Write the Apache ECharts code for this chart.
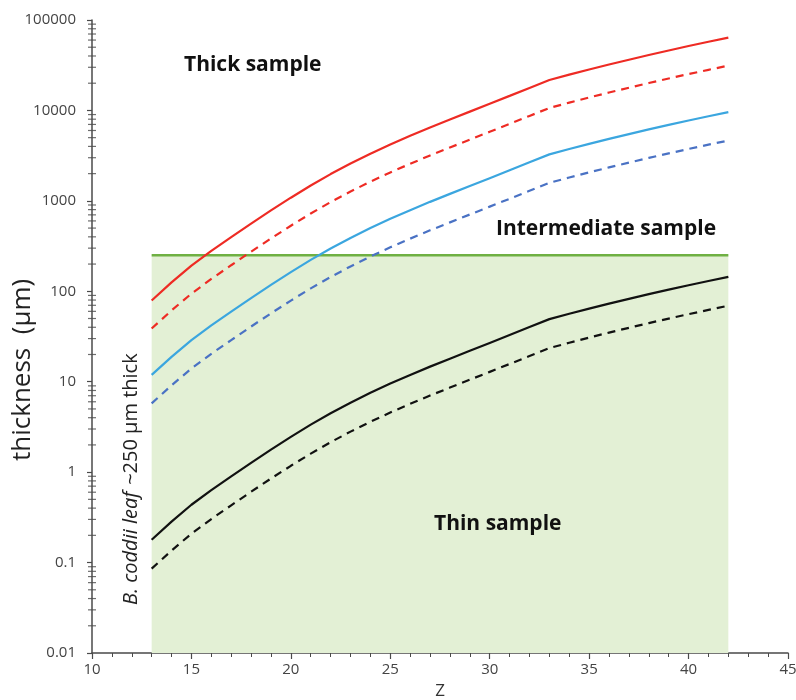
<!DOCTYPE html>
<html>
<head>
<meta charset="utf-8">
<script src="https://cdn.jsdelivr.net/npm/echarts@6/dist/echarts.min.js"></script>
<style>
  html, body { margin: 0; padding: 0; background: #fff; }
  #chart { width: 796px; height: 700px; }
</style>
</head>
<body>
<div id="chart"></div>
<script>
// atomic number Z
var zValues = [13, 14, 15, 16, 17, 18, 19, 20, 21, 22, 23, 24, 25, 26, 27,
               28, 29, 30, 31, 32, 33, 34, 35, 36, 37, 38, 39, 40, 41, 42];

// thickness (µm)
var redSolid = [79.1, 125.3, 192.3, 279.3, 396.3, 559.8, 783.4, 1084, 1479, 1977, 2588, 3327, 4207, 5248, 6486,
                7943, 9705, 11858, 14488, 17742, 21727, 24889, 28379, 32211, 36392, 41020, 46026, 51523, 57412, 63826];
var redDashed = [38.8, 61.4, 94.2, 136.9, 194.2, 274.3, 383.9, 531, 725, 969, 1268, 1630, 2061, 2572, 3178,
                 3892, 4755, 5810, 7099, 8694, 10646, 12196, 13906, 15783, 17832, 20100, 22553, 25246, 28132, 31275];
var blueSolid = [11.89, 18.83, 28.90, 41.98, 59.56, 84.14, 117.7, 162.9, 222.3, 297.1, 389.0, 500.0, 632.3, 788.8, 974.8,
                 1194, 1459, 1782, 2178, 2667, 3266, 3741, 4265, 4841, 5470, 6165, 6918, 7744, 8629, 9593];
var blueDashed = [5.76, 9.12, 14.0, 20.33, 28.85, 40.75, 57.03, 78.9, 107.7, 143.9, 188.4, 242.2, 306.3, 382.1, 472.2,
                  578.2, 706.5, 863.3, 1055, 1292, 1582, 1812, 2066, 2345, 2649, 2986, 3351, 3751, 4180, 4647];
var blackSolid = [0.179, 0.284, 0.436, 0.633, 0.898, 1.268, 1.774, 2.455, 3.350, 4.478, 5.862, 7.536, 9.529, 11.89, 14.69,
                  17.99, 21.98, 26.86, 32.82, 40.19, 49.21, 56.37, 64.28, 72.96, 82.43, 92.91, 104.2, 116.7, 130.0, 144.6];
var blackDashed = [0.0857, 0.1358, 0.2085, 0.3028, 0.4296, 0.6068, 0.8492, 1.175, 1.603, 2.143, 2.805, 3.606, 4.560, 5.689, 7.031,
                   8.610, 10.52, 12.85, 15.70, 19.23, 23.55, 26.98, 30.76, 34.92, 39.45, 44.46, 49.89, 55.85, 62.23, 69.19];

// leaf thickness limit and its Z range
var leafThickness = 250;
var leafZRange = [13, 42];

// minor log ticks on the y axis
var yDecades = [0.01, 0.1, 1, 10, 100, 1000, 10000];
var yMantissas = [2, 3, 4, 5, 6, 7, 8, 9];

function pairs(ys) {
    var out = [];
    for (var i = 0; i < zValues.length; i++) {
        out.push([zValues[i], ys[i]]);
    }
    return out;
}

var minorTicks = [];
yDecades.forEach(function(d) {
    yMantissas.forEach(function(m) {
        minorTicks.push([10, +(d * m).toPrecision(3)]);
    });
});

var chart = echarts.init(document.getElementById('chart'));
var font = 'Open Sans';
var axisColor = '#4a4a4a';

function curve(name, data, color, dashed) {
    return {
        name: name,
        type: 'line',
        data: pairs(data),
        showSymbol: false,
        z: 5,
        lineStyle: {
            color: color,
            width: 2.2,
            type: dashed ? [8, 6] : 'solid'
        }
    };
}

var option = {
    animation: false,
    backgroundColor: '#fff',
    textStyle: { fontFamily: font },
    grid: { left: 92, right: 8, top: 20, bottom: 47, containLabel: false, outerBoundsMode: 'none' },
    xAxis: {
        type: 'value',
        min: 10,
        max: 45,
        interval: 5,
        name: 'Z',
        nameLocation: 'middle',
        nameGap: 30,
        nameTextStyle: { color: '#333', fontSize: 17, fontFamily: font },
        axisLine: { onZero: false, lineStyle: { color: axisColor, width: 1.5 } },
        axisTick: { show: true, length: 6, lineStyle: { color: axisColor, width: 1.2 } },
        minorTick: { show: true, splitNumber: 5, length: 4, lineStyle: { color: axisColor, width: 1 } },
        axisLabel: { color: '#444', fontSize: 15, margin: 9, fontFamily: font },
        splitLine: { show: false }
    },
    yAxis: {
        type: 'log',
        logBase: 10,
        min: 0.01,
        max: 100000,
        axisLine: { show: true, lineStyle: { color: axisColor, width: 1.5 } },
        axisTick: { show: true, length: 5, lineStyle: { color: axisColor, width: 1.2 } },
        axisLabel: {
            color: '#444', fontSize: 15, margin: 16, fontFamily: font,
            formatter: function(v) { return String(v); }
        },
        splitLine: { show: false }
    },
    graphic: [
        {
            type: 'text', left: 184, top: 55, z: 100,
            style: { text: 'Thick sample', fontSize: 21, fontWeight: 'bold', fill: '#111', fontFamily: font }
        },
        {
            type: 'text', left: 496, top: 219, z: 100,
            style: { text: 'Intermediate sample', fontSize: 21, fontWeight: 'bold', fill: '#111', fontFamily: font }
        },
        {
            type: 'text', left: 434, top: 514, z: 100,
            style: { text: 'Thin sample', fontSize: 21, fontWeight: 'bold', fill: '#111', fontFamily: font }
        },
        {
            type: 'text',
            x: 141, y: 605, z: 100,
            rotation: Math.PI / 2,
            style: {
                text: '{i|B. coddii leaf}  {n|~250 µm thick}',
                fill: '#222',
                verticalAlign: 'bottom',
                rich: {
                    i: { fontStyle: 'italic', fontSize: 20, fontFamily: font, fill: '#222' },
                    n: { fontSize: 20, fontFamily: font, fill: '#222' }
                }
            }
        },
        {
            type: 'text',
            x: 36, y: 461, z: 100,
            rotation: Math.PI / 2,
            style: {
                text: 'thickness  (µm)',
                fill: '#222',
                fontSize: 26,
                fontFamily: font,
                verticalAlign: 'bottom'
            }
        }
    ],
    series: [
        {
            name: 'leaf',
            type: 'line',
            data: [[leafZRange[0], leafThickness], [leafZRange[1], leafThickness]],
            showSymbol: false,
            z: 3,
            lineStyle: { color: '#6fb043', width: 2.5 },
            markArea: {
                silent: true,
                itemStyle: { color: '#e3f0d5' },
                data: [[{ coord: [leafZRange[0], 0.01] }, { coord: [leafZRange[1], leafThickness] }]]
            }
        },
        curve('red', redSolid, '#ee2b24', false),
        curve('red dashed', redDashed, '#ee2b24', true),
        curve('blue', blueSolid, '#3ba6df', false),
        curve('blue dashed', blueDashed, '#4a72c4', true),
        curve('black', blackSolid, '#111111', false),
        curve('black dashed', blackDashed, '#111111', true),
        {
            name: 'minor ticks',
            type: 'scatter',
            data: minorTicks,
            symbol: 'rect',
            symbolSize: [8, 1.2],
            clip: false,
            silent: true,
            itemStyle: { color: axisColor },
            z: 6
        }
    ]
};

chart.setOption(option);
</script>
</body>
</html>
